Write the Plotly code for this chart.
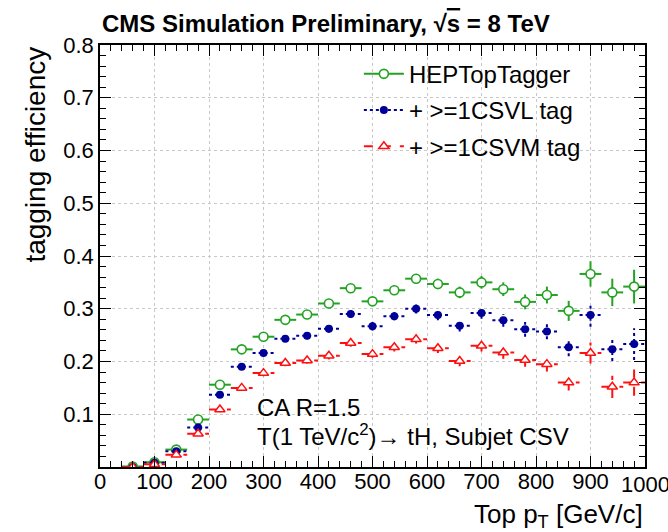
import plotly.graph_objects as go

# ---- data ----
pt_centers = [60, 100, 140, 180, 220, 260, 300, 340, 380, 420, 460, 500,
              540, 580, 620, 660, 700, 740, 780, 820, 860, 900, 940, 980]
bin_half_width = 20

hep_eff = [0.001, 0.009, 0.033, 0.090, 0.156, 0.223, 0.247, 0.279, 0.289, 0.310, 0.339, 0.314,
           0.335, 0.357, 0.347, 0.331, 0.350, 0.337, 0.313, 0.326, 0.296, 0.366, 0.331, 0.342]
hep_err = [0.001, 0.002, 0.003, 0.005, 0.006, 0.006, 0.006, 0.007, 0.007, 0.007, 0.008, 0.008,
           0.009, 0.009, 0.010, 0.011, 0.012, 0.013, 0.014, 0.016, 0.019, 0.024, 0.026, 0.032]

csvl_eff = [0.000, 0.008, 0.030, 0.075, 0.137, 0.190, 0.216, 0.243, 0.249, 0.262, 0.290, 0.267,
            0.286, 0.300, 0.288, 0.268, 0.292, 0.278, 0.261, 0.257, 0.227, 0.288, 0.223, 0.233]
csvl_err = [0.001, 0.002, 0.003, 0.005, 0.005, 0.006, 0.006, 0.006, 0.007, 0.007, 0.007, 0.008,
            0.008, 0.009, 0.010, 0.011, 0.011, 0.012, 0.014, 0.015, 0.017, 0.022, 0.022, 0.030]

csvm_eff = [0.000, 0.005, 0.023, 0.063, 0.109, 0.150, 0.178, 0.197, 0.202, 0.211, 0.235, 0.214,
            0.227, 0.242, 0.225, 0.201, 0.230, 0.217, 0.203, 0.195, 0.160, 0.216, 0.152, 0.160]
csvm_err = [0.001, 0.002, 0.003, 0.004, 0.005, 0.005, 0.006, 0.006, 0.006, 0.007, 0.007, 0.007,
            0.008, 0.008, 0.009, 0.010, 0.011, 0.012, 0.013, 0.014, 0.015, 0.020, 0.021, 0.025]

series_names = ["HEPTopTagger", "+ >=1CSVL tag", "+ >=1CSVM tag"]
x_ticks = [0, 100, 200, 300, 400, 500, 600, 700, 800, 900]
x_last_tick = 1000
y_ticks = [0.1, 0.2, 0.3, 0.4, 0.5, 0.6, 0.7, 0.8]

GREEN = "#22a322"
BLUE = "#000099"
RED = "#ff1010"

FONT = "Liberation Sans, Arial, sans-serif"


def segments(xs, ys, es, hw):
    hx, hy, vx, vy = [], [], [], []
    for x, y, e in zip(xs, ys, es):
        hx += [x - hw, x + hw, None]
        hy += [y, y, None]
        vx += [x, x, None]
        vy += [y - e, y + e, None]
    return hx, hy, vx, vy


fig = go.Figure()

styles = [
    (hep_eff, hep_err, GREEN, "solid", dict(symbol="circle", size=9, color="white",
                                             line=dict(color=GREEN, width=1.6))),
    (csvl_eff, csvl_err, BLUE, "dot", dict(symbol="circle", size=8, color=BLUE,
                                            line=dict(color=BLUE, width=0))),
    (csvm_eff, csvm_err, RED, "dash", dict(symbol="triangle-up", size=9, color="white",
                                            line=dict(color=RED, width=1.5))),
]

for name, (ys, es, col, dash, mk) in zip(series_names, styles):
    hx, hy, vx, vy = segments(pt_centers, ys, es, bin_half_width)
    fig.add_trace(go.Scatter(x=hx, y=hy, mode="lines", line=dict(color=col, width=2, dash=dash),
                             showlegend=False, hoverinfo="skip"))
    fig.add_trace(go.Scatter(x=vx, y=vy, mode="lines", line=dict(color=col, width=2, dash=dash),
                             showlegend=False, hoverinfo="skip"))
    fig.add_trace(go.Scatter(x=pt_centers, y=ys, mode="markers", marker=mk,
                             showlegend=False, name=name))
    fig.add_trace(go.Scatter(x=[None], y=[None], mode="lines+markers", name=name,
                             line=dict(color=col, width=2, dash=dash), marker=mk,
                             legendgroup=name))

axis_common = dict(
    showline=True, linecolor="black", linewidth=1.5, mirror="allticks",
    ticks="inside", ticklen=11, tickwidth=1, tickcolor="black",
    showgrid=True, gridcolor="#c8c8c8", griddash="dot", gridwidth=1,
    zeroline=False, automargin=False,
    tickfont=dict(family=FONT, size=22, color="black"),
)

fig.update_xaxes(range=[0, 1000], tickvals=x_ticks + [x_last_tick],
                 ticktext=[str(v) for v in x_ticks] + [""],
                 ticklabelstandoff=-6,
                 minor=dict(dtick=20, ticks="inside", ticklen=6, tickcolor="black", showgrid=False),
                 **axis_common)
fig.update_yaxes(range=[0, 0.8], tickvals=y_ticks, ticktext=[f"{v:.1f}" for v in y_ticks],
                 minor=dict(dtick=0.02, ticks="inside", ticklen=6, tickcolor="black", showgrid=False),
                 **axis_common)

fig.update_layout(
    width=668, height=532,
    margin=dict(l=100, r=23, t=45, b=65),
    paper_bgcolor="white", plot_bgcolor="white",
    font=dict(family=FONT, color="black"),
    showlegend=True,
    legend=dict(x=0.475, y=0.984, xanchor="left", yanchor="top",
                font=dict(family=FONT, size=24, color="black"),
                bgcolor="rgba(0,0,0,0)", tracegroupgap=2, itemwidth=40),
    annotations=[
        dict(text="<b>CMS Simulation Preliminary, √<span style='text-decoration:overline'>s</span> = 8 TeV</b>",
             xref="paper", yref="paper", x=0, y=1.0, yshift=6, xanchor="left", yanchor="bottom",
             showarrow=False, font=dict(family=FONT, size=24, color="black")),
        dict(text="tagging efficiency", xref="paper", yref="paper", x=-0.12,
             y=1.0, xanchor="center", yanchor="top", textangle=-90, showarrow=False,
             font=dict(family=FONT, size=28, color="black")),
        dict(text="Top p<sub>T</sub> [GeV/c]", xref="paper", yref="paper", x=1.0, y=0,
             yshift=-30, xanchor="right", yanchor="top", showarrow=False,
             font=dict(family=FONT, size=26, color="black")),
        dict(text=str(x_last_tick), xref="x", yref="paper", x=x_last_tick, y=0,
             yshift=-3, xanchor="center", yanchor="top", showarrow=False,
             font=dict(family=FONT, size=22, color="black")),
        dict(text="CA R=1.5", xref="paper", yref="paper", x=0.285, y=0.14,
             xanchor="left", yanchor="middle", showarrow=False,
             font=dict(family=FONT, size=24, color="black")),
        dict(text="T(1 TeV/c<sup>2</sup>)→ tH, Subjet CSV", xref="paper", yref="paper",
             x=0.285, y=0.075, xanchor="left", yanchor="middle", showarrow=False,
             font=dict(family=FONT, size=24, color="black")),
    ],
)

fig.write_html("out.html")
